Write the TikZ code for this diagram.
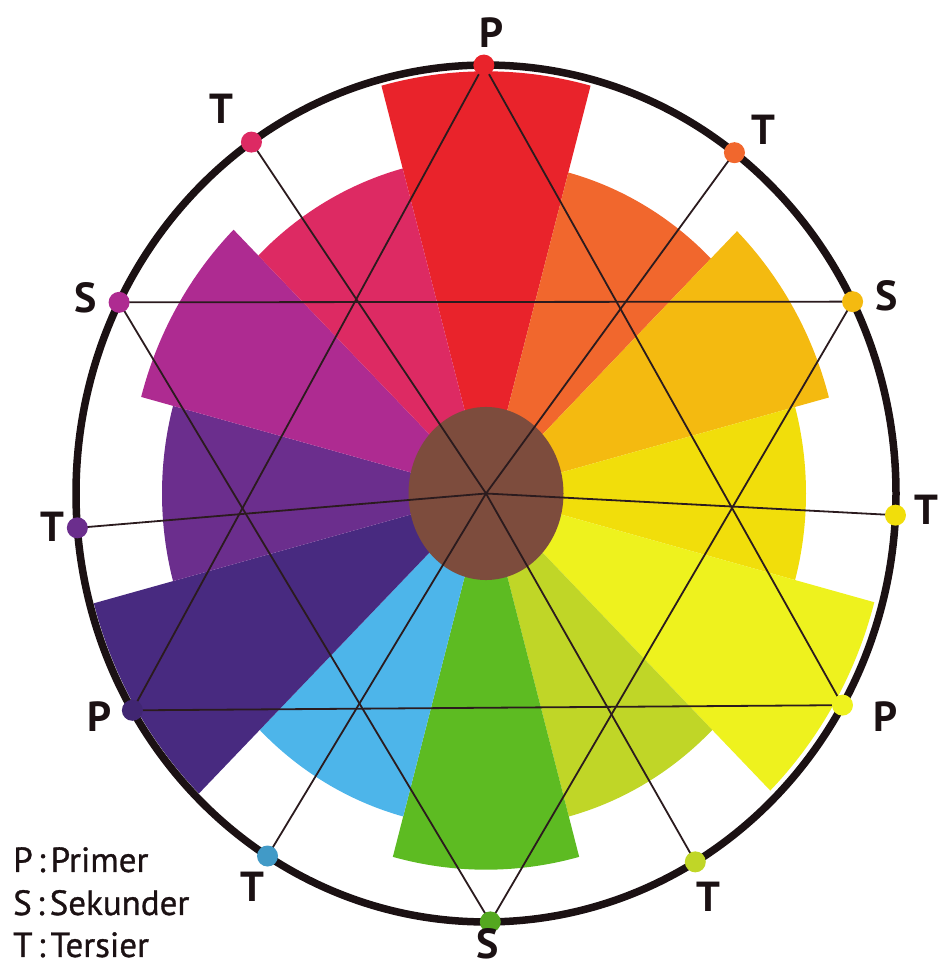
\documentclass[tikz,border=0pt]{standalone}
\usepackage{fontspec}
\setmainfont{PT Sans}
\newfontfamily\legendfont[FakeBold=0.9, WordSpace=0.55]{PT Sans}
\usetikzlibrary{positioning, calc}
\usepackage{xcolor}
\definecolor{WheelRed}{HTML}{E9232B}
\definecolor{WheelRedOrange}{HTML}{F1672D}
\definecolor{WheelYellowOrange}{HTML}{F4BA10}
\definecolor{WheelAmber}{HTML}{F1DE0B}
\definecolor{WheelYellow}{HTML}{EEF21E}
\definecolor{WheelYellowGreen}{HTML}{C0D627}
\definecolor{WheelGreen}{HTML}{5DBB22}
\definecolor{WheelBlue}{HTML}{4DB5EA}
\definecolor{WheelViolet}{HTML}{482A80}
\definecolor{WheelPurple}{HTML}{6B2E8D}
\definecolor{WheelMagenta}{HTML}{AE2B91}
\definecolor{WheelPink}{HTML}{DD2A63}
\definecolor{WheelBrown}{HTML}{7D4C3D}
\definecolor{RimBlack}{HTML}{1B1113}
\definecolor{LineBlack}{HTML}{2B1B1E}

\begin{document}
\begin{tikzpicture}[
  x=1pt, y=1pt,
  rim/.style={draw=RimBlack, line width=7.5pt},
  link/.style={draw=LineBlack, line width=1.8pt, line join=round},
  dot/.style={circle, inner sep=0pt, minimum size=21pt},
  lbl/.style={font=\fontsize{42}{42}\selectfont\bfseries, text=RimBlack, inner sep=0pt},
  legend/.style={font=\legendfont\fontsize{35}{40}\selectfont, text=RimBlack, inner sep=0pt, anchor=base west}
]
  \useasboundingbox (0,0) rectangle (939,972);
  \begin{scope}[shift={(486,478.5)}, yscale=1.045]
    % Wedges
    \foreach \ang/\rad/\col in {90/404/WheelRed, 60/318/WheelRedOrange,
        30/355/WheelYellowOrange, 0/320/WheelAmber, -30/402/WheelYellow,
        -60/320/WheelYellowGreen, -90/360/WheelGreen, -120/320/WheelBlue,
        -150/406/WheelViolet, 180/324/WheelPurple, 150/357/WheelMagenta,
        120/322/WheelPink}
      \fill[\col] (0,0) -- (\ang-15:\rad) arc[start angle=\ang-15, end angle=\ang+15, radius=\rad] -- cycle;
    \fill[WheelBrown] (0,0) ellipse[x radius=77.5, y radius=82.8];
    % Points on the rim
    \coordinate (o) at (0,0);
    \coordinate (p1) at (90.3:410);
    \coordinate (p2) at (210.4:410);
    \coordinate (p3) at (330.4:410);
    \coordinate (s1) at (153.5:410);
    \coordinate (s2) at (270.6:410);
    \coordinate (s3) at (26.6:410);
    \coordinate (t1) at (124.9:410);
    \coordinate (t2) at (184.6:410);
    \coordinate (t3) at (237.8:410);
    \coordinate (t4) at (300.7:410);
    \coordinate (t5) at (357.1:410);
    \coordinate (t6) at (52.7:410);
    % Triangles and spokes
    \draw[link] (p1) -- (p2) -- (p3) -- cycle;
    \draw[link] (s1) -- (s2) -- (s3) -- cycle;
    \draw[link] (t1) -- (o) -- (t4);
    \draw[link] (t2) -- (o) -- (t5);
    \draw[link] (t3) -- (o) -- (t6);
    \draw[rim] (0,0) circle[radius=410];
  \end{scope}
  % Dots
  \node[dot, fill=WheelRed] (dp1) at (p1) {};
  \node[dot, fill=WheelViolet!90!black] (dp2) at (p2) {};
  \node[dot, fill=WheelYellow] (dp3) at (p3) {};
  \node[dot, fill=WheelMagenta] (ds1) at (s1) {};
  \node[dot, fill=WheelGreen!90!black] (ds2) at (s2) {};
  \node[dot, fill=WheelYellowOrange] (ds3) at (s3) {};
  \node[dot, fill=WheelPink] (dt1) at (t1) {};
  \node[dot, fill=WheelPurple] (dt2) at (t2) {};
  \node[dot, fill=WheelBlue!85!black] (dt3) at (t3) {};
  \node[dot, fill=WheelYellowGreen] (dt4) at (t4) {};
  \node[dot, fill=WheelAmber] (dt5) at (t5) {};
  \node[dot, fill=WheelRedOrange] (dt6) at (t6) {};
  % Labels
  \node[lbl] (lp1) at (492,939) {P};
  \node[lbl] (lp2) at (100,255) {P};
  \node[lbl] (lp3) at (886,255) {P};
  \node[lbl] (ls1) at (86,674) {S};
  \node[lbl] (ls2) at (488,28) {S};
  \node[lbl] (ls3) at (887,676) {S};
  \node[lbl] (lt1) at (221,863) {T};
  \node[lbl] (lt2) at (52,445) {T};
  \node[lbl] (lt3) at (252,85) {T};
  \node[lbl] (lt4) at (708,75) {T};
  \node[lbl] (lt5) at (926,462) {T};
  \node[lbl] (lt6) at (763,842) {T};
  % Legend
  \node[legend] (legP) at (13,100) {P : Primer};
  \node[legend] (legS) at ($(legP.base west)+(0,-43)$) {S : Sekunder};
  \node[legend] (legT) at ($(legS.base west)+(0,-42)$) {T : Tersier};
\end{tikzpicture}
\end{document}
